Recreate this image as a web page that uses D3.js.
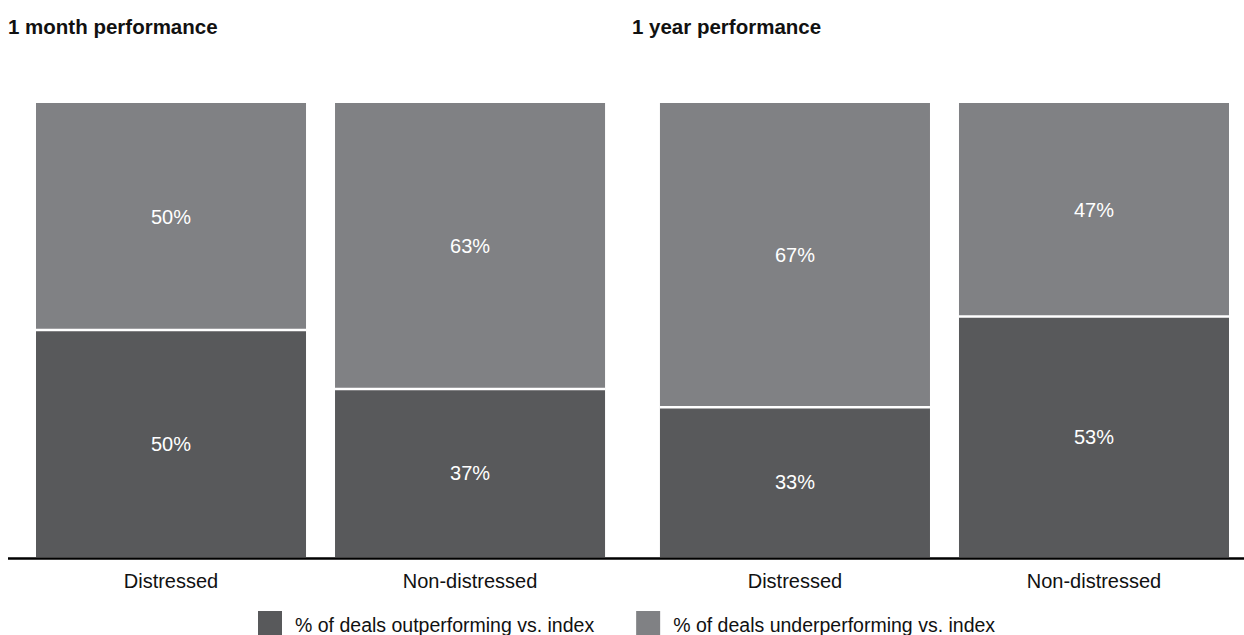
<!DOCTYPE html>
<html>
<head>
<meta charset="utf-8">
<script src="https://cdn.jsdelivr.net/npm/d3@7"></script>
<style>
  html, body { margin: 0; padding: 0; background: #fff; }
  svg { display: block; font-family: Arial, "Liberation Sans", sans-serif; }
</style>
</head>
<body>
<svg id="chart" width="1244" height="635"></svg>
<script>
// Panels and categories
const panels = ["1 month performance", "1 year performance"];
const categories = ["Distressed", "Non-distressed"];

// Share of deals outperforming / underperforming the index (%), per panel, per category
const outperforming = [[50, 37], [33, 53]];
const underperforming = [[50, 63], [67, 47]];

const seriesNames = ["% of deals outperforming vs. index", "% of deals underperforming vs. index"];
const colors = ["#58595b", "#808184"];

const W = 1244, H = 635;
const svg = d3.select("#chart");

const baseY = 557, topY = 103;
const y = d3.scaleLinear().domain([0, 100]).range([baseY, topY]);

const xPanel = d3.scaleBand().domain(panels).range([36, 1229]).paddingInner(0.088).paddingOuter(0);
const xCat = d3.scaleBand().domain(categories).range([0, xPanel.bandwidth()]).paddingInner(0.097).paddingOuter(0);

const labelSize = 20;

panels.forEach((p, pi) => {
  const g = svg.append("g").attr("transform", `translate(${xPanel(p)},0)`);

  // Panel title
  svg.append("text")
    .attr("x", xPanel(p) - 28)
    .attr("y", 34)
    .attr("font-size", 20.5)
    .attr("font-weight", "bold")
    .attr("fill", "#111")
    .text(p);

  categories.forEach((c, ci) => {
    const out = outperforming[pi][ci];
    const under = underperforming[pi][ci];
    const x0 = xCat(c), bw = xCat.bandwidth();

    // lower segment: outperforming
    g.append("rect")
      .attr("x", x0).attr("width", bw)
      .attr("y", y(out)).attr("height", y(0) - y(out))
      .attr("fill", colors[0]);
    // upper segment: underperforming
    g.append("rect")
      .attr("x", x0).attr("width", bw)
      .attr("y", y(out + under)).attr("height", y(out) - y(out + under))
      .attr("fill", colors[1]);
    // white divider between segments
    g.append("line")
      .attr("x1", x0).attr("x2", x0 + bw)
      .attr("y1", y(out)).attr("y2", y(out))
      .attr("stroke", "#fff").attr("stroke-width", 2.5);

    // value labels
    g.append("text")
      .attr("x", x0 + bw / 2)
      .attr("y", (y(0) + y(out)) / 2)
      .attr("dy", "0.35em")
      .attr("text-anchor", "middle")
      .attr("font-size", labelSize)
      .attr("fill", "#fff")
      .text(out + "%");
    g.append("text")
      .attr("x", x0 + bw / 2)
      .attr("y", (y(out) + y(out + under)) / 2)
      .attr("dy", "0.35em")
      .attr("text-anchor", "middle")
      .attr("font-size", labelSize)
      .attr("fill", "#fff")
      .text(under + "%");

    // category label
    g.append("text")
      .attr("x", x0 + bw / 2)
      .attr("y", 581)
      .attr("dy", "0.35em")
      .attr("text-anchor", "middle")
      .attr("font-size", labelSize)
      .attr("fill", "#111")
      .text(c);
  });
});

// Baseline
svg.append("line")
  .attr("x1", 8).attr("x2", W)
  .attr("y1", baseY + 1.5).attr("y2", baseY + 1.5)
  .attr("stroke", "#000").attr("stroke-width", 2.5);

// Legend
const legend = svg.append("g").attr("transform", "translate(258,0)");
let lx = 0;
seriesNames.forEach((s, i) => {
  const item = legend.append("g").attr("transform", `translate(${lx},0)`);
  item.append("rect").attr("x", 0).attr("y", 611).attr("width", 24).attr("height", 24).attr("fill", colors[i]);
  const t = item.append("text")
    .attr("x", 37).attr("y", 632)
    .attr("font-size", 19.5)
    .attr("fill", "#111")
    .text(s);
  lx += 37 + t.node().getComputedTextLength() + 42;
});
</script>
</body>
</html>
